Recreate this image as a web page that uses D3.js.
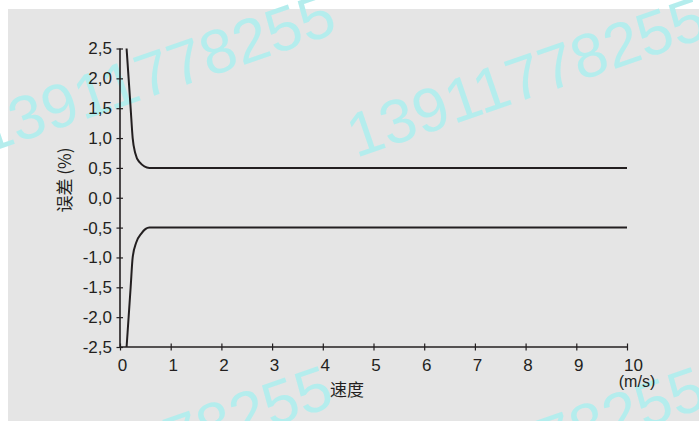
<!DOCTYPE html>
<html>
<head>
<meta charset="utf-8">
<script src="https://cdn.jsdelivr.net/npm/d3@7"></script>
<style>
  html, body { margin: 0; padding: 0; background: #ffffff; }
  svg { display: block; }
</style>
</head>
<body>
<svg id="chart" width="699" height="421"></svg>
<script>
// Speed (m/s) against permissible error (%) — upper and lower limit curves
const speedTicks = [0, 1, 2, 3, 4, 5, 6, 7, 8, 9, 10];
const errorTicks = [2.5, 2.0, 1.5, 1.0, 0.5, 0.0, -0.5, -1.0, -1.5, -2.0, -2.5];

const upperSpeed = [0.13, 0.17, 0.21, 0.25, 0.30, 0.38, 0.58, 10];
const upperError = [2.5, 2.0, 1.5, 1.0, 0.75, 0.6, 0.5, 0.5];
const lowerSpeed = [0.13, 0.17, 0.21, 0.25, 0.32, 0.42, 0.58, 10];
const lowerError = [-2.5, -2.0, -1.5, -1.0, -0.75, -0.6, -0.5, -0.5];

const xTitle = "速度";
const xUnit = "(m/s)";
const yTitle = "误差 (%)";
const stampText = "13911778255";

const ink = "#231f20";
const svg = d3.select("#chart");

// panel background
svg.append("rect")
  .attr("x", 8).attr("y", 9)
  .attr("width", 699 - 8).attr("height", 421 - 9)
  .attr("fill", "#e5e5e5");

// repeated contact-number stamp
const stampOrigins = [[-15, 154], [356, 158], [-18, 527], [355, 528]];
svg.append("g").selectAll("text")
  .data(stampOrigins)
  .join("text")
  .attr("transform", d => `translate(${d[0]},${d[1]}) rotate(-19)`)
  .attr("font-family", "'Liberation Sans', Arial, sans-serif")
  .attr("font-size", 62)
  .attr("fill", "#b4eded")
  .text(stampText);

const x = d3.scaleLinear().domain([0, 10]).range([120, 627]);
const y = d3.scaleLinear().domain([-2.5, 2.5]).range([347, 48.5]);

const fmt = v => d3.format(".1f")(v).replace(".", ",").replace("−", "-");

// x axis
const gx = svg.append("g")
  .attr("transform", `translate(0,${y(-2.5)})`)
  .call(d3.axisBottom(x).tickValues(speedTicks).tickSize(3.5).tickPadding(8).tickFormat(d3.format("d")));
gx.select(".domain").attr("d", `M${x(0)},0H${x(10)}`).attr("stroke", ink).attr("stroke-width", 1.6);
gx.selectAll(".tick line").attr("y1", -3.5).attr("y2", 3.5).attr("stroke", ink).attr("stroke-width", 1.2);
gx.selectAll(".tick text")
  .attr("fill", ink)
  .attr("dx", d => d === 10 ? 6 : 2)
  .attr("font-family", "'Liberation Sans', Arial, sans-serif")
  .attr("font-size", 17);

// y axis
const gy = svg.append("g")
  .attr("transform", `translate(${x(0)},0)`)
  .call(d3.axisLeft(y).tickValues(errorTicks).tickSize(3).tickPadding(5).tickFormat(fmt));
gy.select(".domain").attr("d", `M0,${y(2.5)}V${y(-2.5)}`).attr("stroke", ink).attr("stroke-width", 1.6);
gy.selectAll(".tick line").attr("x1", 3).attr("x2", -3.5).attr("stroke", ink).attr("stroke-width", 1.2);
gy.selectAll(".tick text")
  .attr("fill", ink)
  .attr("font-family", "'Liberation Sans', Arial, sans-serif")
  .attr("font-size", 17);
svg.selectAll(".domain").attr("fill", "none");

// axis titles
svg.append("text")
  .attr("x", 637).attr("y", 387)
  .attr("text-anchor", "middle")
  .attr("font-family", "'Liberation Sans', Arial, sans-serif")
  .attr("font-size", 16)
  .attr("fill", ink)
  .text(xUnit);

svg.append("text")
  .attr("x", 347).attr("y", 396)
  .attr("text-anchor", "middle")
  .attr("font-family", "'Noto Sans CJK SC', sans-serif")
  .attr("font-size", 17)
  .attr("fill", ink)
  .text(xTitle);

svg.append("text")
  .attr("transform", "translate(71,180) rotate(-90)")
  .attr("text-anchor", "middle")
  .attr("font-family", "'Noto Sans CJK SC', 'Liberation Sans', sans-serif")
  .attr("font-size", 17)
  .attr("fill", ink)
  .text(yTitle);

// limit curves
const line = d3.line()
  .x(d => x(d[0]))
  .y(d => y(d[1]))
  .curve(d3.curveMonotoneX);

const curves = [
  d3.zip(upperSpeed, upperError),
  d3.zip(lowerSpeed, lowerError)
];
svg.append("g").selectAll("path")
  .data(curves)
  .join("path")
  .attr("d", line)
  .attr("fill", "none")
  .attr("stroke", ink)
  .attr("stroke-width", 2);
</script>
</body>
</html>
